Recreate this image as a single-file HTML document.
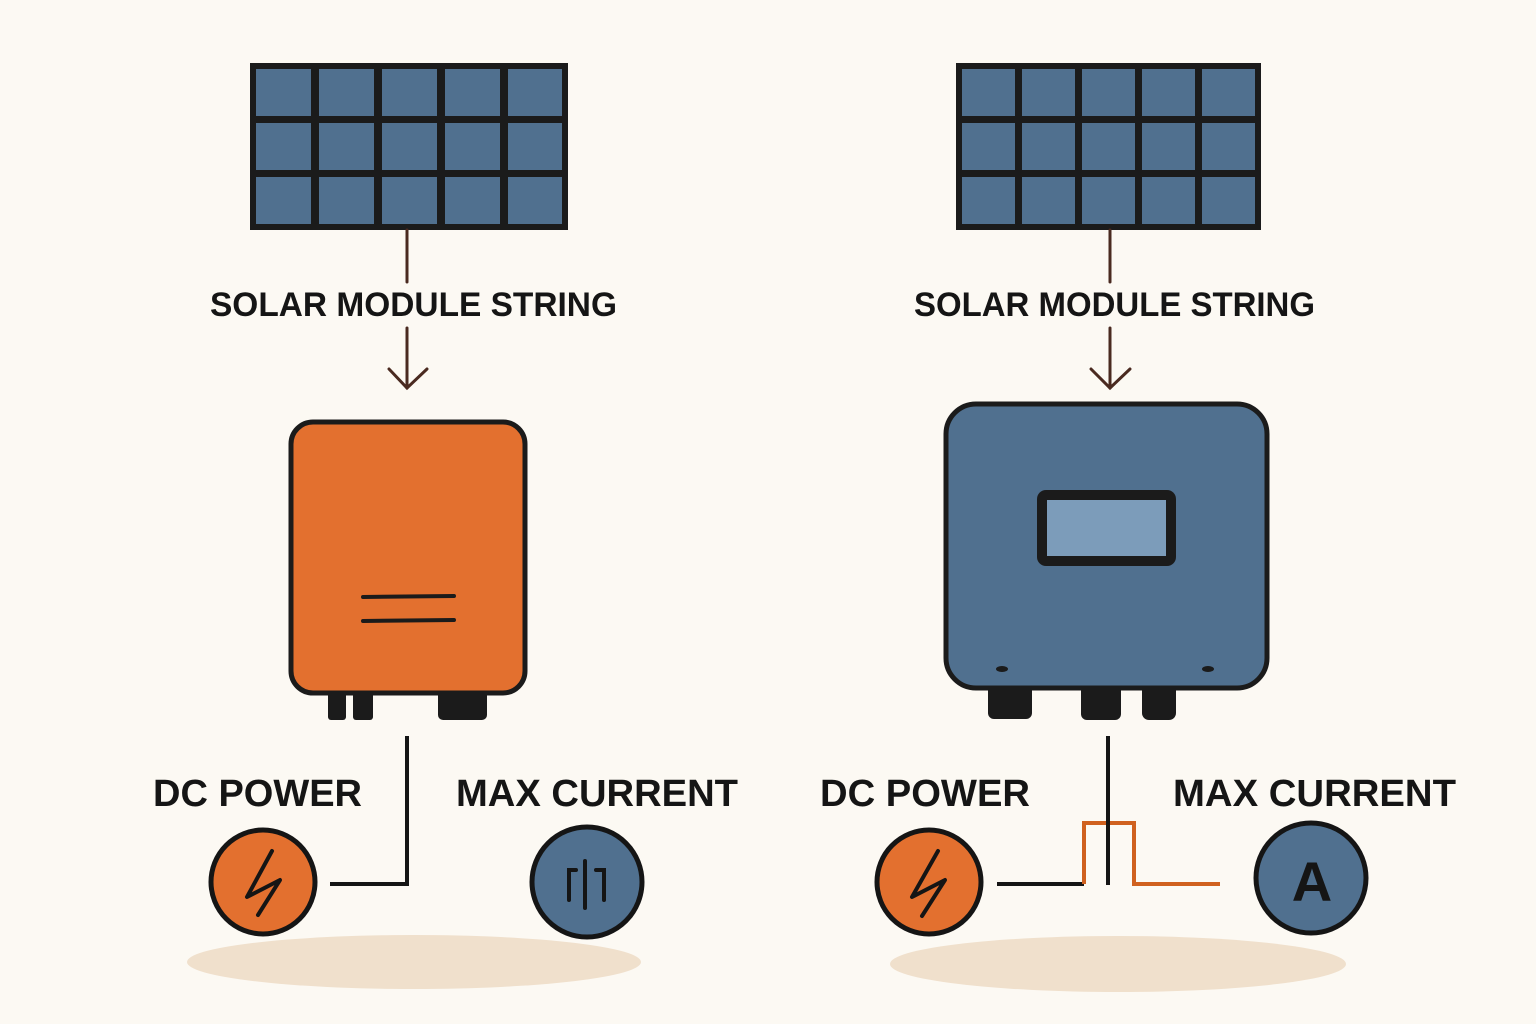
<!DOCTYPE html>
<html><head><meta charset="utf-8"><style>
html,body{margin:0;padding:0;background:#FCF9F3;}
svg{display:block;}
text{font-family:"Liberation Sans",sans-serif;font-weight:bold;fill:#151515;}
</style></head><body>
<svg width="1536" height="1024" viewBox="0 0 1536 1024" xmlns="http://www.w3.org/2000/svg">
<rect width="1536" height="1024" fill="#FCF9F3"/>
<ellipse cx="414" cy="962" rx="227" ry="27" fill="#F0E0CC"/>
<ellipse cx="1118" cy="964" rx="228" ry="28" fill="#F0E0CC"/>
<g>
<rect x="250" y="63" width="318" height="167" fill="#1b1b1b"/>
<g fill="#50708F">
<rect x="256" y="69" width="55" height="47"/><rect x="319" y="69" width="55" height="47"/><rect x="382" y="69" width="55" height="47"/><rect x="445" y="69" width="55" height="47"/><rect x="508" y="69" width="54" height="47"/>
<rect x="256" y="123" width="55" height="47"/><rect x="319" y="123" width="55" height="47"/><rect x="382" y="123" width="55" height="47"/><rect x="445" y="123" width="55" height="47"/><rect x="508" y="123" width="54" height="47"/>
<rect x="256" y="177" width="55" height="47"/><rect x="319" y="177" width="55" height="47"/><rect x="382" y="177" width="55" height="47"/><rect x="445" y="177" width="55" height="47"/><rect x="508" y="177" width="54" height="47"/>
</g></g>
<g>
<rect x="956" y="63" width="305" height="167" fill="#1b1b1b"/>
<g fill="#50708F">
<rect x="962" y="69" width="53" height="47"/><rect x="1022" y="69" width="53" height="47"/><rect x="1082" y="69" width="53" height="47"/><rect x="1142" y="69" width="53" height="47"/><rect x="1202" y="69" width="53" height="47"/>
<rect x="962" y="123" width="53" height="47"/><rect x="1022" y="123" width="53" height="47"/><rect x="1082" y="123" width="53" height="47"/><rect x="1142" y="123" width="53" height="47"/><rect x="1202" y="123" width="53" height="47"/>
<rect x="962" y="177" width="53" height="47"/><rect x="1022" y="177" width="53" height="47"/><rect x="1082" y="177" width="53" height="47"/><rect x="1142" y="177" width="53" height="47"/><rect x="1202" y="177" width="53" height="47"/>
</g></g>
<g stroke="#4a2a20" stroke-width="3" fill="none" stroke-linecap="round">
<line x1="407" y1="230" x2="407" y2="282"/>
<line x1="407" y1="328" x2="407" y2="388"/>
<polyline points="389,369 407,388 427,369"/>
<line x1="1110" y1="230" x2="1110" y2="282"/>
<line x1="1110" y1="328" x2="1110" y2="388"/>
<polyline points="1091,369 1110,388 1130,369"/>
</g>
<text x="210" y="316" font-size="34" textLength="407" lengthAdjust="spacingAndGlyphs">SOLAR MODULE STRING</text>
<text x="914" y="316" font-size="34" textLength="401" lengthAdjust="spacingAndGlyphs">SOLAR MODULE STRING</text>
<g fill="#1b1b1b">
<rect x="328" y="685" width="18" height="35" rx="3"/><rect x="353" y="685" width="20" height="35" rx="3"/>
<rect x="438" y="685" width="49" height="35" rx="5"/>
</g>
<rect x="291" y="422" width="234" height="271" rx="22" fill="#E3702F" stroke="#1b1b1b" stroke-width="5"/>
<g stroke="#1b1b1b" stroke-width="4" stroke-linecap="round">
<line x1="363" y1="597" x2="454" y2="596"/><line x1="363" y1="621" x2="454" y2="620"/>
</g>
<g fill="#1b1b1b">
<rect x="988" y="680" width="44" height="39" rx="6"/><rect x="1081" y="680" width="40" height="40" rx="6"/><rect x="1142" y="680" width="34" height="40" rx="7"/>
</g>
<rect x="946" y="404" width="321" height="284" rx="30" fill="#50708F" stroke="#1b1b1b" stroke-width="5"/>
<rect x="1037" y="490" width="139" height="76" rx="9" fill="#1b1b1b"/>
<rect x="1047" y="500" width="119" height="56" fill="#7C9CBA"/>
<ellipse cx="1002" cy="669" rx="6" ry="3" fill="#1b1b1b"/>
<ellipse cx="1208" cy="669" rx="6" ry="3" fill="#1b1b1b"/>
<polyline points="407,736 407,884 330,884" stroke="#151515" stroke-width="4" fill="none"/>
<circle cx="263" cy="882" r="52" fill="#E3702F" stroke="#151515" stroke-width="5"/>
<polyline points="272,851 247,897 280,880 258,915" stroke="#151515" stroke-width="4" fill="none" stroke-linejoin="round" stroke-linecap="round"/>
<circle cx="587" cy="882" r="55" fill="#50708F" stroke="#151515" stroke-width="5"/>
<g stroke="#151515" stroke-width="4" fill="none" stroke-linecap="round">
<polyline points="569,900 569,870 576,870"/><line x1="585" y1="861" x2="585" y2="908"/><polyline points="596,870 604,870 604,900"/>
</g>
<text x="153" y="806" font-size="38" textLength="209" lengthAdjust="spacingAndGlyphs">DC POWER</text>
<text x="456" y="806" font-size="38" textLength="282" lengthAdjust="spacingAndGlyphs">MAX CURRENT</text>
<line x1="997" y1="884" x2="1084" y2="884" stroke="#151515" stroke-width="4"/>
<polyline points="1084,884 1084,823 1134,823 1134,884 1220,884" stroke="#D0611F" stroke-width="4" fill="none"/>
<line x1="1108" y1="736" x2="1108" y2="885" stroke="#151515" stroke-width="4"/>
<circle cx="929" cy="882" r="52" fill="#E3702F" stroke="#151515" stroke-width="5"/>
<polyline points="938,851 912,897 945,880 922,916" stroke="#151515" stroke-width="4" fill="none" stroke-linejoin="round" stroke-linecap="round"/>
<circle cx="1311" cy="878" r="55" fill="#50708F" stroke="#151515" stroke-width="5"/>
<text x="1312" y="901" font-size="56" text-anchor="middle">A</text>
<text x="820" y="806" font-size="38" textLength="210" lengthAdjust="spacingAndGlyphs">DC POWER</text>
<text x="1173" y="806" font-size="38" textLength="283" lengthAdjust="spacingAndGlyphs">MAX CURRENT</text>
</svg>
</body></html>
